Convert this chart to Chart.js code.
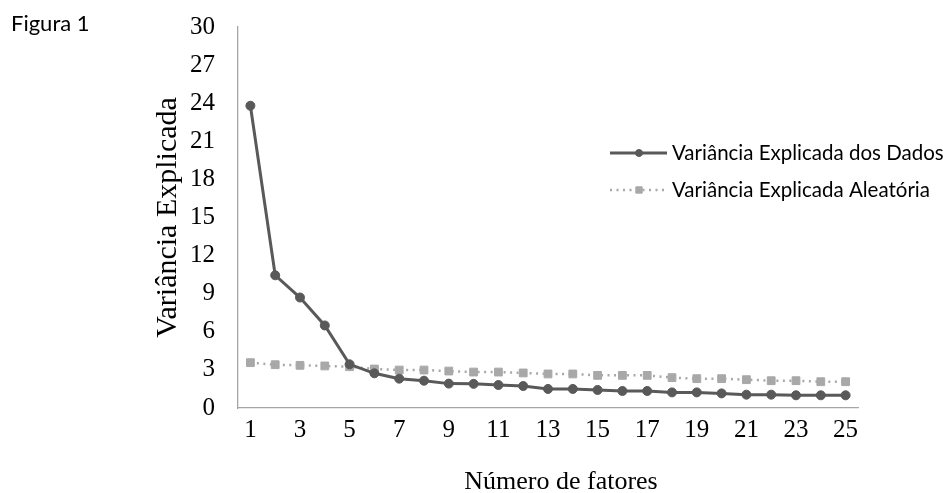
<!DOCTYPE html>
<html>
<head>
<meta charset="utf-8">
<script src="https://cdn.jsdelivr.net/npm/chart.js@4.4.1/dist/chart.umd.min.js"></script>
<style>
  html, body { margin: 0; padding: 0; background: #ffffff; }
  #wrap { position: relative; width: 943px; height: 493px; }
  #fig { position: absolute; left: 11px; top: 9px; font-family: Lato, "Open Sans", sans-serif; font-size: 22px; color: #000; }
  canvas { display: block; }
</style>
</head>
<body>
<div id="wrap">
  <div id="fig">Figura 1</div>
  <canvas id="c" width="943" height="493"></canvas>
</div>
<script>
// ---- data ----
const categories = ['1','2','3','4','5','6','7','8','9','10','11','12','13','14','15','16','17','18','19','20','21','22','23','24','25'];
const dadosValues = [23.8, 10.45, 8.7, 6.5, 3.44, 2.73, 2.31, 2.15, 1.92, 1.9, 1.81, 1.73, 1.5, 1.5, 1.42, 1.34, 1.34, 1.23, 1.23, 1.15, 1.05, 1.05, 1.0, 1.0, 1.0];
const aleatoriaValues = [3.57, 3.41, 3.36, 3.31, 3.25, 3.07, 2.99, 2.99, 2.91, 2.83, 2.83, 2.76, 2.68, 2.68, 2.57, 2.57, 2.57, 2.39, 2.31, 2.31, 2.23, 2.15, 2.15, 2.07, 2.07];
const seriesNames = ['Variância Explicada dos Dados', 'Variância Explicada Aleatória'];
const yMin = 0, yMax = 30, yStep = 3;
const xTitle = 'Número de fatores';
const yTitle = 'Variância Explicada';

const serif = "'Liberation Serif', 'Times New Roman', serif";
const sans = "Lato, 'Open Sans', sans-serif";

const customLegend = {
  id: 'customLegend',
  afterDraw(chart) {
    const ctx = chart.ctx;
    const rows = [153, 190];
    chart.data.datasets.forEach((ds, i) => {
      const y = rows[i];
      ctx.save();
      ctx.strokeStyle = ds.borderColor;
      ctx.lineWidth = ds.borderWidth;
      ctx.setLineDash(ds.borderDash || []);
      ctx.beginPath();
      ctx.moveTo(610, y);
      ctx.lineTo(667, y);
      ctx.stroke();
      ctx.setLineDash([]);
      ctx.fillStyle = ds.pointBackgroundColor;
      ctx.strokeStyle = ds.pointBorderColor;
      ctx.lineWidth = 1;
      Chart.helpers.drawPoint(ctx, { pointStyle: ds.pointStyle, radius: ds.pointStyle === 'rect' ? 4.5 : 3.5, rotation: 0, borderWidth: 1 }, 639, y);
      ctx.fillStyle = '#000';
      ctx.font = '20.5px ' + sans;
      ctx.textAlign = 'left';
      ctx.textBaseline = 'middle';
      ctx.fillText(ds.label, 672, y);
      ctx.restore();
    });
  }
};

const xTitlePlugin = {
  id: 'xTitlePlugin',
  afterDraw(chart) {
    const ctx = chart.ctx;
    ctx.save();
    ctx.fillStyle = '#000';
    ctx.font = '26px ' + serif;
    ctx.textAlign = 'center';
    ctx.textBaseline = 'middle';
    ctx.fillText(xTitle, 561, 482);
    ctx.restore();
  }
};

new Chart(document.getElementById('c'), {
  type: 'line',
  data: {
    labels: categories,
    datasets: [
      {
        label: seriesNames[0],
        data: dadosValues,
        borderColor: '#595959',
        backgroundColor: '#595959',
        borderWidth: 3,
        pointStyle: 'circle',
        pointRadius: 4.5,
        pointBackgroundColor: '#595959',
        pointBorderColor: '#595959',
        pointBorderWidth: 1,
        tension: 0,
        fill: false
      },
      {
        label: seriesNames[1],
        data: aleatoriaValues,
        borderColor: '#A8A8A8',
        backgroundColor: '#A8A8A8',
        borderWidth: 2.5,
        borderDash: [2, 4.5],
        pointStyle: 'rect',
        pointRadius: 5.5,
        pointBackgroundColor: '#A8A8A8',
        pointBorderColor: '#A8A8A8',
        pointBorderWidth: 1,
        tension: 0,
        fill: false
      }
    ]
  },
  options: {
    responsive: false,
    animation: false,
    devicePixelRatio: 1,
    layout: { padding: { left: 150, right: 85, top: 27, bottom: 0 } },
    plugins: {
      legend: { display: false },
      tooltip: { enabled: false },
      title: { display: false }
    },
    scales: {
      x: {
        type: 'category',
        offset: true,
        grid: { display: false, drawTicks: false },
        border: { display: true, color: '#A6A6A6', width: 1.3 },
        ticks: {
          autoSkip: false,
          maxRotation: 0,
          minRotation: 0,
          padding: 7,
          color: '#000',
          font: { family: serif, size: 25 },
          callback: function(v, i) { return i % 2 === 0 ? categories[i] : ''; }
        },
        title: { display: false },
        afterFit: function(s) { s.height = 85; }
      },
      y: {
        min: yMin,
        max: yMax,
        grid: { display: false, drawTicks: true, tickLength: 20 },
        border: { display: true, color: '#A6A6A6', width: 1.3 },
        ticks: {
          stepSize: yStep,
          padding: 3,
          color: '#000',
          font: { family: serif, size: 25 }
        },
        title: {
          display: true,
          text: yTitle,
          color: '#000',
          font: { family: serif, size: 30, lineHeight: 1.2 },
          padding: { top: 0, bottom: 0 }
        },
        afterFit: function(s) { s.width = 88; }
      }
    }
  },
  plugins: [customLegend, xTitlePlugin]
});
</script>
</body>
</html>
